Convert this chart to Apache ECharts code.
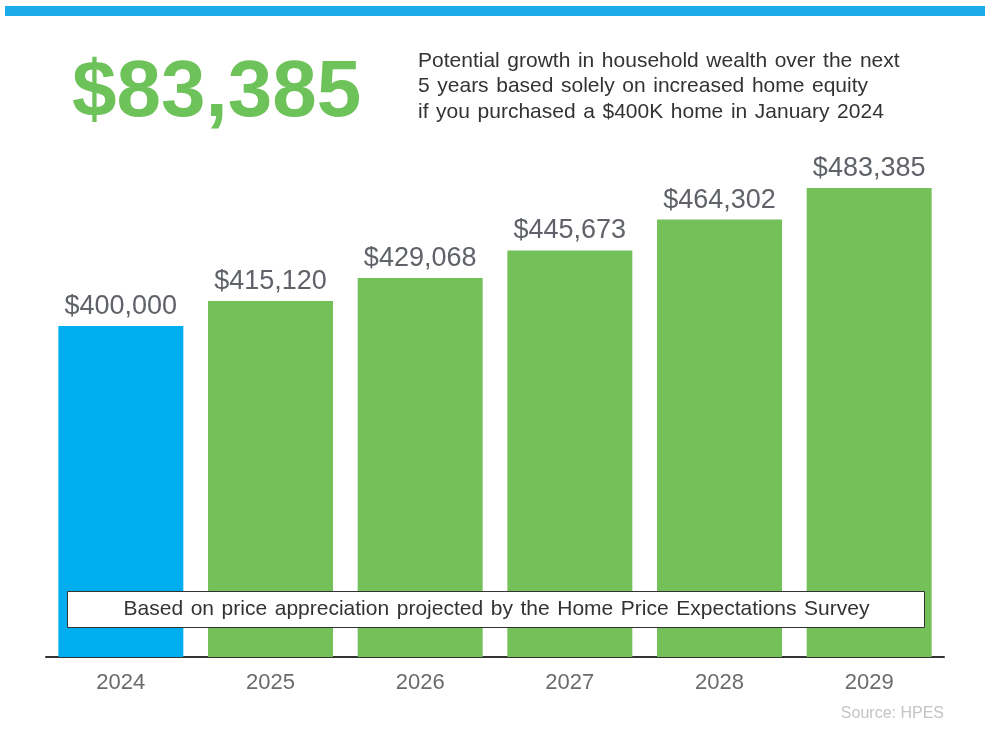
<!DOCTYPE html>
<html>
<head>
<meta charset="utf-8">
<script src="https://cdn.jsdelivr.net/npm/echarts@6/dist/echarts.min.js"></script>
<style>
html,body{margin:0;padding:0;background:#fff;}
#chart{width:993px;height:732px;}
</style>
</head>
<body>
<div id="chart"></div>
<script>
const categories = ['2024', '2025', '2026', '2027', '2028', '2029'];
const homeValues = [400000, 415120, 429068, 445673, 464302, 483385];
const barColors = ['#00AEEF', '#74C15A', '#74C15A', '#74C15A', '#74C15A', '#74C15A'];
const headlineValue = '$83,385';
const subtitleLines = [
  'Potential growth in household wealth over the next',
  '5 years based solely on increased home equity',
  'if you purchased a $400K home in January 2024'
];
const noteText = 'Based on price appreciation projected by the Home Price Expectations Survey';
const sourceText = 'Source: HPES';

const fmt = v => '$' + v.toLocaleString('en-US');
const wide = s => s.split(' ').join(' \u200A');
const FONT = '"Liberation Sans", Arial, sans-serif';

const chart = echarts.init(document.getElementById('chart'));
chart.setOption({
  animation: false,
  backgroundColor: '#ffffff',
  grid: { left: 46, right: 49, top: 160.5, bottom: 75 },
  xAxis: {
    type: 'category',
    data: categories,
    axisLine: { show: true, lineStyle: { color: '#333333', width: 2 } },
    axisTick: { show: false },
    axisLabel: { color: '#6b6b6b', fontSize: 22, fontFamily: FONT, margin: 15 }
  },
  yAxis: {
    type: 'value',
    min: 200000,
    max: 500000,
    show: false,
    splitLine: { show: false }
  },
  series: [{
    type: 'bar',
    data: homeValues.map((v, i) => ({ value: v, itemStyle: { color: barColors[i] } })),
    barCategoryGap: '16.5%',
    label: {
      show: true,
      position: 'top',
      distance: 6,
      color: '#5f6268',
      fontSize: 27,
      fontFamily: FONT,
      formatter: p => fmt(p.value)
    }
  }],
  graphic: [
    { type: 'rect', left: 5, top: 6, shape: { width: 980, height: 10 }, style: { fill: '#1AABE8' } },
    { type: 'text', left: 72, top: 54, style: { text: headlineValue, fill: '#6EC25A', font: 'bold 80px ' + FONT } },
    { type: 'text', left: 418, top: 48, style: { text: subtitleLines.map(wide).join('\n'), fill: '#333333', font: '21px ' + FONT, lineHeight: 25.7 } },
    { type: 'rect', left: 67, top: 591, z: 10, shape: { width: 857, height: 36 }, style: { fill: '#ffffff', stroke: '#333333', lineWidth: 1 } },
    { type: 'text', left: 'center', top: 598.5, z: 11, style: { text: wide(noteText), fill: '#333333', font: '21px ' + FONT } },
    { type: 'text', right: 49, top: 706, style: { text: sourceText, fill: '#c4c4c4', font: '16px ' + FONT, textAlign: 'right' } }
  ]
});
</script>
</body>
</html>
